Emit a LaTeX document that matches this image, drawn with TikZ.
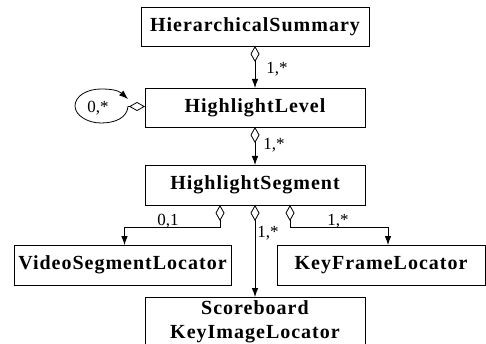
\documentclass[tikz,border=0pt]{standalone}
\usepackage{fontspec}
\setmainfont{Liberation Serif}
\newfontfamily\boxfont[LetterSpace=5]{Liberation Serif}
\usetikzlibrary{arrows.meta,calc}

\tikzset{
    classbox/.style={draw, line width=0.8pt, minimum width=220pt, minimum height=39pt,
        inner sep=0pt, outer sep=0pt, align=center,
        font=\boxfont\bfseries\fontsize{20}{24}\selectfont},
    agg/.style={line width=0.8pt, {Diamond[open,length=16pt,width=9pt]}-{Latex[length=9pt,width=6.5pt]}},
    mult/.style={inner sep=0pt, font=\fontsize{17}{19}\selectfont}
}

\begin{document}
\begin{tikzpicture}[x=1pt,y=-1pt]
    \useasboundingbox (0,0) rectangle (486,344);

    % class boxes
    \node[classbox, minimum width=228pt] (summary) at (255,26.5) {HierarchicalSummary};
    \node[classbox] (level) at (255,107.5) {HighlightLevel};
    \node[classbox, minimum height=40pt] (segment) at (255,185) {HighlightSegment};
    \node[classbox, minimum width=217pt, minimum height=40pt] (vsl) at (122.5,265) {VideoSegmentLocator};
    \node[classbox, minimum width=208pt, minimum height=40pt] (kfl) at (381,265) {KeyFrameLocator};
    \node[classbox, minimum height=49pt] (ski) at (255,321.5) {Scoreboard\\KeyImageLocator};

    % aggregations
    \draw[agg] (summary.south) -- (level.north);
    \node[mult] (m1) at (277,69) {1,*};

    \coordinate (loopend) at (128,99);
    \draw[agg] ([yshift=1pt]level.west) -- ++(-17,0)
        .. controls (127,118) and (115,123) .. (101,123)
        .. controls (87,123) and (75,115) .. (75,106)
        .. controls (75,96) and (87,89) .. (101,89)
        .. controls (110,89) and (118,90) .. (loopend);
    \node[mult] (m2) at (98,108) {0,*};

    \draw[agg] (level.south) -- (segment.north);
    \node[mult] (m3) at (274,145) {1,*};

    \draw[agg] ([xshift=-35pt]segment.south) -- ++(0,22) -| ([xshift=2pt]vsl.north);
    \node[mult] (m4) at (168,221) {0,1};

    \draw[agg] (segment.south) -- (ski.north);
    \node[mult] (m5) at (268,233) {1,*};

    \draw[agg] ([xshift=35pt]segment.south) -- ++(0,22) -| ([xshift=7pt]kfl.north);
    \node[mult] (m6) at (338,221) {1,*};
\end{tikzpicture}
\end{document}
